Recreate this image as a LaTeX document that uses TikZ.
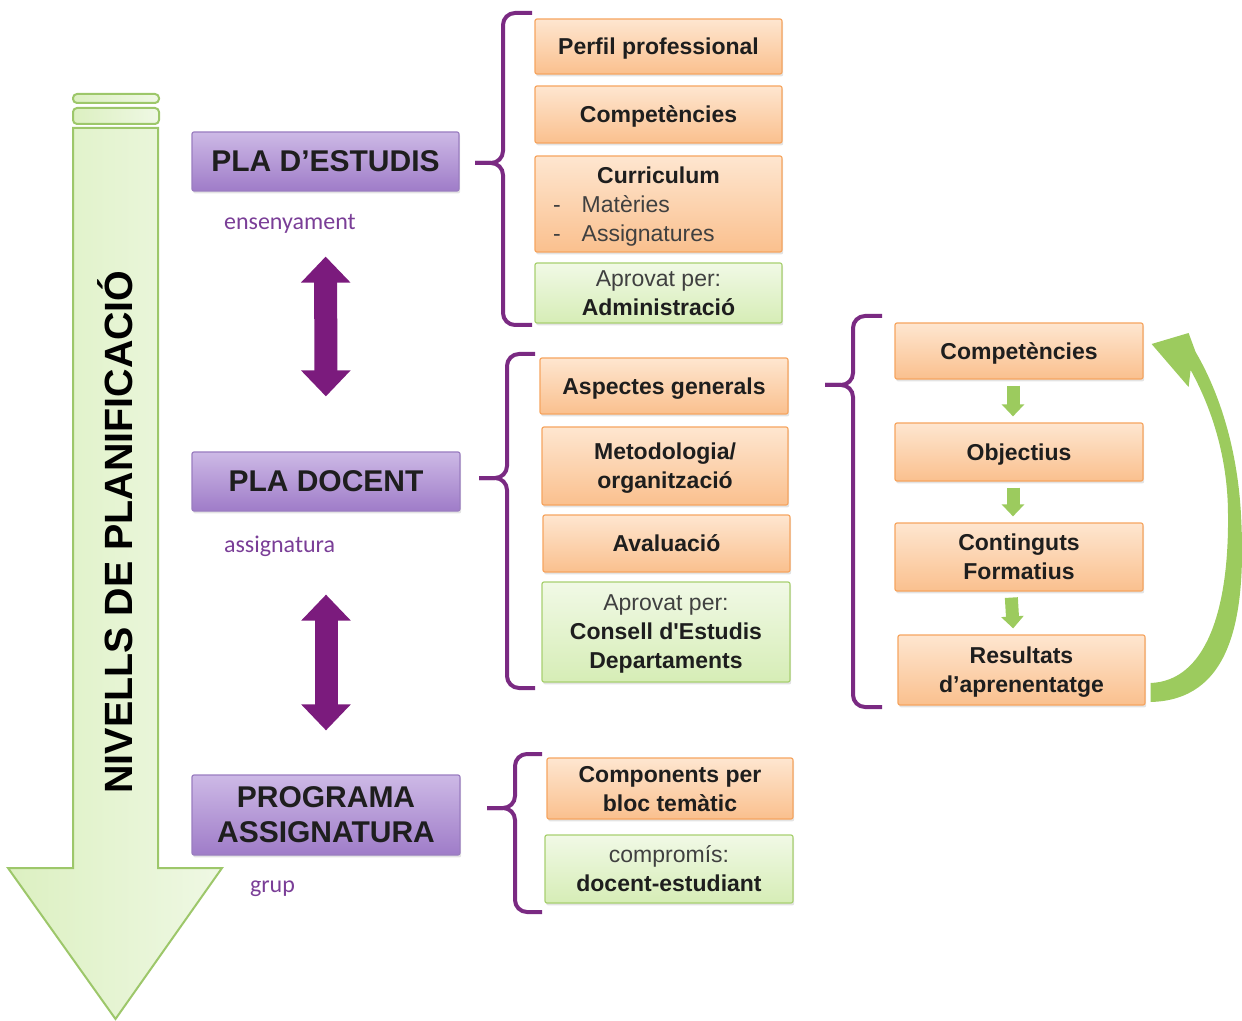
\documentclass[tikz,border=0pt]{standalone}
\usepackage{fontspec}
\setmainfont{Liberation Sans}
\newfontfamily\lblfont{Carlito}
\usetikzlibrary{arrows.meta,shadows}

\definecolor{orTop}{HTML}{FEE6D0}
\definecolor{orBot}{HTML}{FAC08E}
\definecolor{orBorder}{HTML}{F6A560}
\definecolor{grTop}{HTML}{F1F9E6}
\definecolor{grBot}{HTML}{D6EDB6}
\definecolor{grBorder}{HTML}{A8D070}
\definecolor{puTop}{HTML}{CDB9E6}
\definecolor{puBot}{HTML}{9F7CC8}
\definecolor{puBorder}{HTML}{9A7DC0}
\definecolor{lblPurple}{HTML}{7A3E97}
\definecolor{braceCol}{HTML}{7A2A82}
\definecolor{arrPurple}{HTML}{7B1B7D}
\definecolor{arrGreen}{HTML}{9CCB5E}
\definecolor{bigBorder}{HTML}{9DC76A}
\definecolor{bigLeft}{HTML}{DCF0C1}
\definecolor{bigRight}{HTML}{EFF8E4}
\definecolor{txt}{HTML}{1E1E1E}

\tikzset{
  wh/.style 2 args={minimum width=0.5pt*#1, minimum height=0.5pt*#2},
  box/.style={draw, line width=0.6pt, rounded corners=1pt, inner sep=2pt,
    align=center, text=txt, text depth=-3pt,
    font=\fontsize{11.5}{14.5}\selectfont\bfseries,
    drop shadow={shadow xshift=0.6pt, shadow yshift=-1.2pt, opacity=0.22}},
  obox/.style={box, draw=orBorder, top color=orTop, bottom color=orBot},
  gbox/.style={box, draw=grBorder, top color=grTop, bottom color=grBot},
  pbox/.style={box, draw=puBorder, top color=puTop, bottom color=puBot,
    text depth=-4pt, font=\fontsize{15}{17.5}\selectfont\bfseries},
  lbl/.style={font=\lblfont\fontsize{12}{14}\selectfont, text=lblPurple, anchor=west},
  brace/.style={draw=braceCol, line width=2pt, rounded corners=6pt},
  parrow/.style={draw=arrPurple, line width=11.5pt,
    {Triangle[width=24pt,length=13pt]}-{Triangle[width=24pt,length=13pt]}},
  garrow/.style={draw=arrGreen, line width=6.5pt,
    -{Triangle[width=11pt,length=6pt]}, shorten <=3pt, shorten >=3pt},
  bigarrow/.style={draw=bigBorder, line width=1pt, left color=bigLeft, right color=bigRight}
}

\newcommand{\plain}[1]{{\mdseries\color{black!75}#1}}

\begin{document}
\begin{tikzpicture}[x=0.5pt,y=-0.5pt]
\useasboundingbox (0,0) rectangle (1242,1021);

% large downward arrow with its two bars
\draw[bigarrow, rounded corners=2pt] (73,94) rectangle (159,103);
\draw[bigarrow, rounded corners=2pt] (73,108) rectangle (159,124);
\draw[bigarrow] (73,128) -- (158,128) -- (158,868) -- (222,868) -- (115.5,1019)
  -- (8,868) -- (73,868) -- cycle;
\node[rotate=90, anchor=base, text=black,
  font=\fontsize{19.7}{20}\selectfont\bfseries] (title) at (132,532)
  {NIVELLS DE PLANIFICACIÓ};

% planning levels
\node[pbox, wh={267}{59}] (pe) at (325.5,161.5) {PLA D’ESTUDIS};
\node[pbox, wh={268}{59}] (pd) at (326,481.5) {PLA DOCENT};
\node[pbox, wh={268}{80}] (pa) at (326,815) {PROGRAMA\\ASSIGNATURA};

\node[lbl] (l1) at (217,224) {ensenyament};
\node[lbl] (l2) at (217,546) {assignatura};
\node[lbl] (l3) at (243,889) {grup};

\draw[parrow, shorten <=32.5pt, shorten >=27.5pt] (pe.south) -- (pd.north);
\draw[parrow, shorten <=41.5pt, shorten >=22pt] (pd.south) -- (pa.north);

% study plan contents
\node[obox, wh={247}{55}] (o1) at (658.5,46.5) {Perfil professional};
\node[obox, wh={247}{57}] (o2) at (658.5,114.5) {Competències};
\node[obox, wh={247}{96}] (o3) at (658.5,204)
  {Curriculum\\
   \makebox[105.5pt][l]{\plain{-\hspace{10.5pt}Matèries}}\\
   \makebox[105.5pt][l]{\plain{-\hspace{10.5pt}Assignatures}}};
\node[gbox, wh={247}{60}] (g1) at (658.5,293) {\plain{Aprovat per:}\\Administració};

% teaching plan contents
\node[obox, wh={248}{56}] (o4) at (664,386) {Aspectes generals};
\node[obox, wh={246}{78}] (o5) at (665,466) {Metodologia/\\organització};
\node[obox, wh={247}{57}] (o6) at (666.5,543.5) {Avaluació};
\node[gbox, wh={248}{100}] (g2) at (666,632)
  {\plain{Aprovat per:}\\Consell d\textquotesingle Estudis\\Departaments};

% course programme contents
\node[obox, wh={246}{61}] (o7) at (670,788.5) {Components per\\bloc temàtic};
\node[gbox, wh={248}{68}] (g3) at (669,869) {\plain{compromís:}\\docent-estudiant};

% cycle of the first item
\node[obox, wh={248}{56}] (r1) at (1019,351) {Competències};
\node[obox, wh={248}{58}] (r2) at (1019,452) {Objectius};
\node[obox, wh={248}{68}] (r3) at (1019,557) {Continguts\\Formatius};
\node[obox, wh={247}{70}] (r4) at (1021.5,670) {Resultats\\d’aprenentatge};

\draw[garrow] ([xshift=-3pt]r1.south) -- ([xshift=-3pt]r2.north);
\draw[garrow] ([xshift=-3pt]r2.south) -- ([xshift=-3pt]r3.north);
\draw[garrow] ([xshift=-4pt]r3.south) -- ([xshift=-4pt]r4.north);

% curved return arrow
\fill[arrGreen]
  ([shift={(5,32)}]r4.east) .. controls (1228,700) and (1247,625) .. (1241,515)
  .. controls (1237,440) and (1215,385) .. ([shift={(52,1)}]r1.east)
  -- ([shift={(45,-18)}]r1.east) -- ([shift={(8,-7)}]r1.east)
  -- ([shift={(45,36)}]r1.east) -- ([shift={(47,19)}]r1.east)
  .. controls (1210,405) and (1228,455) .. (1228,515)
  .. controls (1229,612) and (1205,681) .. ([shift={(5,13)}]r4.east) -- cycle;

% braces
\draw[brace] (532,13) -- (503,13) -- (503,163) -- (475,163);
\draw[brace] (475,163) -- (503,163) -- (503,325) -- (532,325);
\draw[brace] (535,354) -- (507,354) -- (507,478) -- (479,478);
\draw[brace] (479,478) -- (507,478) -- (507,688) -- (535,688);
\draw[brace] (542,754) -- (515,754) -- (515,808) -- (487,808);
\draw[brace] (487,808) -- (515,808) -- (515,912) -- (542,912);
\draw[brace] (882,316) -- (853,316) -- (853,385) -- (825,385);
\draw[brace] (825,385) -- (853,385) -- (853,707) -- (882,707);
\end{tikzpicture}
\end{document}
